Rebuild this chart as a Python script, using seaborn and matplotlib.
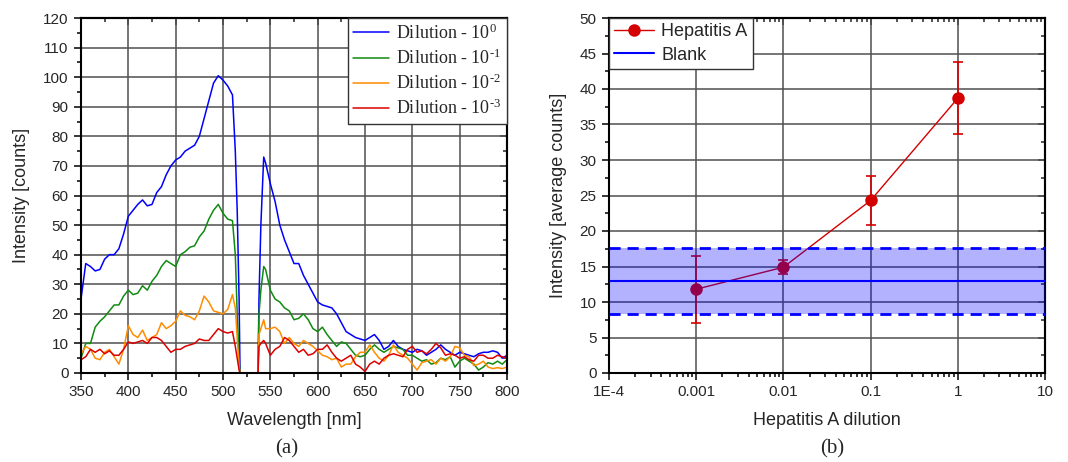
import numpy as np
import pandas as pd
import matplotlib
matplotlib.use("Agg")
import matplotlib.pyplot as plt
import seaborn as sns
from matplotlib.ticker import MultipleLocator, FixedLocator, FixedFormatter, LogLocator, NullFormatter

# ---------------- data: panel (a) spectra ----------------
wavelength = [350, 355, 360, 365, 370, 375, 380, 385, 390, 395, 400, 405, 410, 415, 420, 425,
              430, 435, 440, 445, 450, 455, 460, 465, 470, 475, 480, 485, 490, 495, 500, 505,
              510, 513, 515, 517, 518, 537, 538, 540, 543,
              545, 550, 555, 560, 565, 570, 575, 580, 585, 590, 595, 600, 605, 610, 615, 620,
              625, 630, 635, 640, 645, 650, 655, 660, 665, 670, 675, 680, 685, 690, 695, 700,
              705, 710, 715, 720, 725, 730, 735, 740, 745, 750, 755, 760, 765, 770, 775, 780,
              785, 790, 795, 800]

dil_0 = [25, 37, 36, 34.5, 35, 38.5, 40, 40, 42, 47, 53, 55, 57, 58.5, 56.5, 57,
         61, 63, 67, 70, 72, 73, 75, 76, 77, 80, 86, 92, 98, 100.5, 99, 97,
         94, 75, 55, 25, 0, 0, 25, 50, 73,
         71, 64, 58, 50, 45, 41, 37, 37, 33, 30, 27, 24, 23, 22.5, 22, 20,
         17, 14, 13, 12, 11.5, 11, 12, 13, 11, 8, 9, 11, 9, 8, 7.5, 7,
         8, 7.5, 6, 7, 8, 9.5, 8, 7, 6, 7, 6.5, 6, 5.5, 6.5, 7, 7,
         7.5, 7, 5, 6]

dil_1 = [5, 10, 10, 15.5, 17.5, 19, 21, 23, 23, 26, 28, 26.5, 27, 29.5, 28, 31,
         33, 36, 38, 37, 36, 40, 41, 42.5, 43, 46, 48, 52, 55, 57, 54, 52,
         51.5, 40, 20, 5, 0, 0, 20, 28, 36,
         35, 28, 25, 24, 22, 21, 18, 18.5, 20, 18, 15, 14, 15.5, 13, 11, 9,
         10.5, 10, 8, 6, 5.5, 6, 8, 9.5, 8, 7, 8, 9, 8.5, 8, 6, 6,
         5, 4, 4.5, 3, 3.5, 5, 4.5, 5.5, 2, 4, 5, 4, 3, 1, 2, 3.5,
         3, 4, 3, 4.5]

dil_2 = [6.5, 9, 8, 5, 4.5, 7, 8, 5.5, 3, 8, 16, 13, 12, 14.5, 11, 12,
         13, 17, 15, 16, 17.5, 21, 19.5, 19, 18, 21, 26, 24, 21, 20.5, 20, 21.5,
         26.5, 22, 12, 2, 0, 0, 13, 15, 18,
         15, 15, 15.5, 14, 10, 12, 10, 9, 11, 10, 9, 7.5, 6, 5.5, 4.5, 5,
         2, 3, 3, 5.5, 7, 7, 9.5, 7, 5, 4, 6, 9.5, 7, 6, 5, 3,
         1, 3.5, 4, 4.5, 3, 5, 4, 5.5, 9, 8.5, 6, 5.5, 2.5, 3, 4, 2,
         1.5, 1.8, 1.5, 2]

dil_3 = [4.5, 5.5, 8, 7, 8, 6.5, 7.5, 6, 6, 8, 10.5, 10, 10.5, 11, 10, 12,
         12, 11, 9, 7, 8, 8, 9, 9.5, 10, 11.5, 11, 11, 13, 15, 14, 13.5,
         14, 9, 5, 1, 0, 0, 9, 10, 11,
         10, 6, 8, 9, 12, 11, 9, 7, 8, 6, 6.5, 8, 8, 9.5, 7, 5,
         4, 5, 6, 3, 2, 0.5, 3, 4, 3, 5, 6, 6.5, 6, 5.5, 8, 9,
         7, 7.5, 6.5, 8, 10, 8.5, 6, 6.5, 6, 5, 5.5, 4.5, 4, 6, 6, 5,
         5, 6, 5.5, 5]

series_labels = ["Dilution - 10$^{\\text{0}}$", "Dilution - 10$^{\\text{-1}}$",
                 "Dilution - 10$^{\\text{-2}}$", "Dilution - 10$^{\\text{-3}}$"]
series_colors = ["#0000ff", "#108a10", "#ff8c00", "#dd0000"]

# ---------------- data: panel (b) ----------------
dilution = [0.001, 0.01, 0.1, 1]
hep_mean = [11.8, 14.9, 24.3, 38.7]
hep_err = [4.7, 1.0, 3.5, 5.05]
blank_mean = 13.0
blank_low = 8.3
blank_high = 17.6
xticks_b = [1e-4, 1e-3, 1e-2, 1e-1, 1, 10]
xticklabels_b = ["1E-4", "0.001", "0.01", "0.1", "1", "10"]

# ---------------- styling ----------------
sns.set_style("ticks")
plt.rcParams["font.family"] = ["Liberation Sans", "DejaVu Sans"]
plt.rcParams["mathtext.fontset"] = "custom"
plt.rcParams["mathtext.rm"] = "Liberation Serif"
plt.rcParams["mathtext.it"] = "Liberation Serif:italic"
plt.rcParams["mathtext.bf"] = "Liberation Serif:bold"

fig = plt.figure(figsize=(10.68, 4.62), dpi=100)
axa = fig.add_axes([81/1068, 1-373/462, (507-81)/1068, (373-18)/462])
axb = fig.add_axes([609/1068, 1-373/462, (1045-609)/1068, (373-18)/462])

grid_kw = dict(color="#505050", linewidth=1.1)

def style_axes(ax):
    for s in ax.spines.values():
        s.set_color("black")
        s.set_linewidth(1.5)
    ax.tick_params(which="both", direction="out", labelsize=11, color="black",
                   width=1.1, pad=4)
    ax.tick_params(which="major", length=5)
    ax.tick_params(which="minor", length=3)
    ax.tick_params(axis="x", which="both", top=False)
    ax.tick_params(axis="y", which="both", right=False)
    ax.grid(True, which="major", **grid_kw)
    ax.set_axisbelow(True)

def inner_ticks(ax):
    sx = ax.secondary_xaxis("top")
    sy = ax.secondary_yaxis("right")
    sx.xaxis.set_major_locator(ax.xaxis.get_major_locator())
    sx.xaxis.set_minor_locator(ax.xaxis.get_minor_locator())
    sy.yaxis.set_major_locator(ax.yaxis.get_major_locator())
    sy.yaxis.set_minor_locator(ax.yaxis.get_minor_locator())
    for sec in (sx, sy):
        sec.tick_params(which="both", direction="in", labelleft=False, labelright=False,
                        labeltop=False, labelbottom=False, width=1.1)
        sec.tick_params(which="major", length=5)
        sec.tick_params(which="minor", length=3)
        for s in sec.spines.values():
            s.set_linewidth(1.5)

# ---- panel (a)
df = pd.concat([pd.DataFrame({"wl": wavelength, "val": v, "series": lab})
                for v, lab in zip([dil_0, dil_1, dil_2, dil_3], series_labels)],
               ignore_index=True)
sns.lineplot(data=df, x="wl", y="val", hue="series", palette=series_colors,
             hue_order=series_labels, estimator=None, sort=False, linewidth=1.1, ax=axa)
axa.set_xlim(350, 800)
axa.set_ylim(0, 120)
axa.xaxis.set_major_locator(MultipleLocator(50))
axa.xaxis.set_minor_locator(MultipleLocator(25))
axa.yaxis.set_major_locator(MultipleLocator(10))
axa.yaxis.set_minor_locator(MultipleLocator(5))
style_axes(axa)
inner_ticks(axa)
axa.set_xlabel("Wavelength [nm]", fontsize=13, labelpad=9)
axa.set_ylabel("Intensity [counts]", fontsize=13, labelpad=9)
leg = axa.legend(loc="upper right", borderaxespad=0.0, frameon=True, fancybox=False,
                 prop={"family": "Liberation Serif", "size": 13}, handlelength=2.0,
                 labelspacing=0.32, borderpad=0.3, handletextpad=0.4)
leg.get_frame().set_edgecolor("#333333")
leg.get_frame().set_linewidth(1.0)
leg.get_frame().set_alpha(1)

# ---- panel (b)
axb.set_xscale("log")
red = "#d40000"
axb.errorbar(dilution, hep_mean, yerr=hep_err, fmt="none", ecolor=red, elinewidth=1.2,
             capsize=3.5, capthick=1.2, zorder=3)
sns.lineplot(x=dilution, y=hep_mean, color=red, marker="o", markersize=9,
             markeredgewidth=0, linewidth=1.0, ax=axb, zorder=3, label="Hepatitis A")
axb.axhspan(blank_low, blank_high, color="#0000ff", alpha=0.3, lw=0, zorder=4)
axb.axhline(blank_mean, color="#0000ff", lw=1.5, zorder=5, label="Blank")
axb.axhline(blank_low, color="#0000ff", lw=2, ls=(0, (4, 2.5)), zorder=5)
axb.axhline(blank_high, color="#0000ff", lw=2, ls=(0, (4, 2.5)), zorder=5)
axb.set_xlim(1e-4, 10)
axb.set_ylim(0, 50)
axb.xaxis.set_major_locator(FixedLocator(xticks_b))
axb.xaxis.set_major_formatter(FixedFormatter(xticklabels_b))
axb.xaxis.set_minor_locator(LogLocator(base=10, subs=np.arange(2, 10), numticks=20))
axb.xaxis.set_minor_formatter(NullFormatter())
axb.yaxis.set_major_locator(MultipleLocator(5))
axb.yaxis.set_minor_locator(MultipleLocator(2.5))
style_axes(axb)
inner_ticks(axb)
axb.set_xlabel("Hepatitis A dilution", fontsize=13, labelpad=9)
axb.set_ylabel("Intensity [average counts]", fontsize=13, labelpad=9)
legb = axb.legend(loc="upper left", borderaxespad=0.0, frameon=True, fancybox=False,
                  prop={"size": 13}, handlelength=2.2, labelspacing=0.35,
                  borderpad=0.3, handletextpad=0.4)
legb.get_frame().set_edgecolor("#333333")
legb.get_frame().set_linewidth(1.0)
legb.get_frame().set_alpha(1)
legb.set_zorder(10)

fig.text(287/1068, 1-449/462, "(a)", ha="center", va="center",
         family="Liberation Serif", fontsize=15)
fig.text(832/1068, 1-449/462, "(b)", ha="center", va="center",
         family="Liberation Serif", fontsize=15)

fig.savefig("out.png", dpi=100)
